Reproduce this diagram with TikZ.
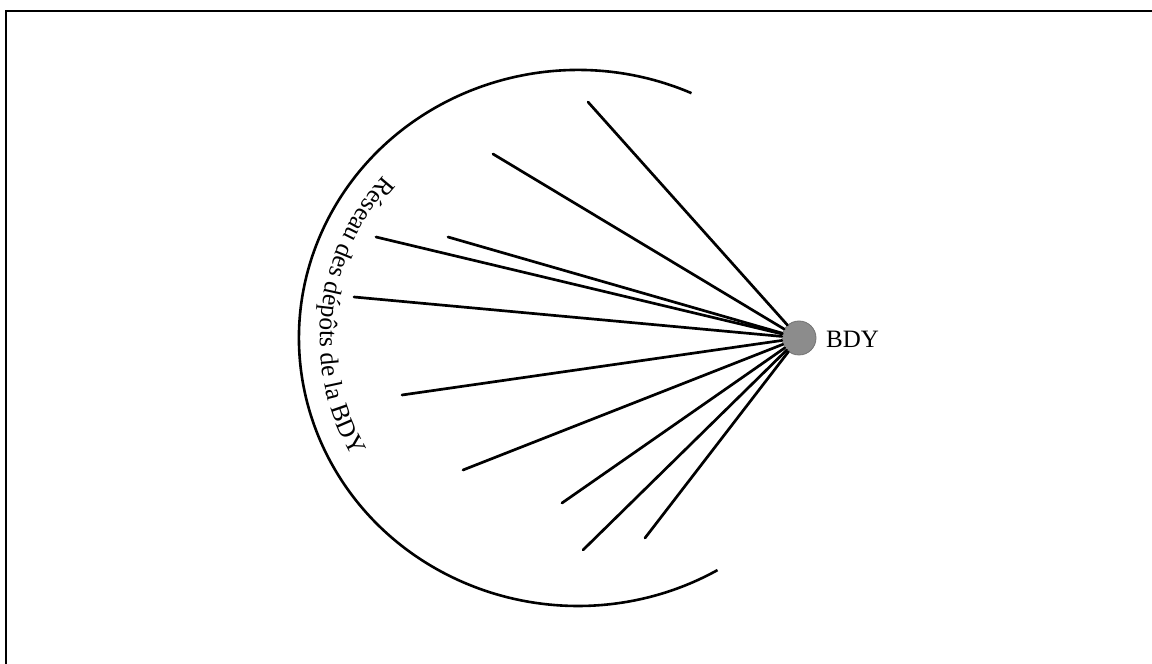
\documentclass[tikz,border=0pt]{standalone}
\usepackage{fontspec}
\setmainfont{Liberation Serif}
\usetikzlibrary{decorations.text,calc}
\begin{document}
\begin{tikzpicture}[x=1pt,y=1pt,
  ray/.style={line width=2.7pt,line cap=round},
  frameline/.style={line width=2pt},
  hub/.style={circle,minimum size=34pt,inner sep=0pt,fill=black!45,draw=black!55,line width=0.8pt},
  lbl/.style={font=\fontsize{25}{25}\selectfont,inner sep=0pt}]
\useasboundingbox (0,0) rectangle (1152,664);
% frame (top and left)
\coordinate (ftr) at (1152,653);
\coordinate (ftl) at (6,653);
\coordinate (fbl) at (6,0);
\draw[frameline] (ftr) -- (ftl) -- (fbl);
% arc
\coordinate (c) at (578,326);
\draw[line width=2.6pt] ($(c)+(66:279pt and 268pt)$) arc[start angle=66,end angle=300,x radius=279pt,y radius=268pt];
% curved text
\path[decorate,decoration={text along path,text align=center,
  text={|\fontsize{25.5}{25.5}\selectfont|Réseau des dépôts de la BDY}}]
  ($(c)+(110:258pt and 247pt)$) arc[start angle=110,end angle=238,x radius=258pt,y radius=247pt];
% hub
\node[hub] (bdy) at (799,326) {};
\node[lbl,anchor=west] (bdyl) at (826,325) {BDY};
% ray ends
\coordinate (e1) at (588,562);
\coordinate (e2) at (493,510);
\coordinate (e3) at (448,427);
\coordinate (e4) at (376,427);
\coordinate (e5) at (354,367);
\coordinate (e6) at (402,269);
\coordinate (e7) at (463,194);
\coordinate (e8) at (562,161);
\coordinate (e9) at (583,114);
\coordinate (e10) at (645,126);
\foreach \e in {e1,e2,e3,e4,e5,e6,e7,e8,e9,e10}
  \draw[ray] (bdy) -- (\e);
\end{tikzpicture}
\end{document}
